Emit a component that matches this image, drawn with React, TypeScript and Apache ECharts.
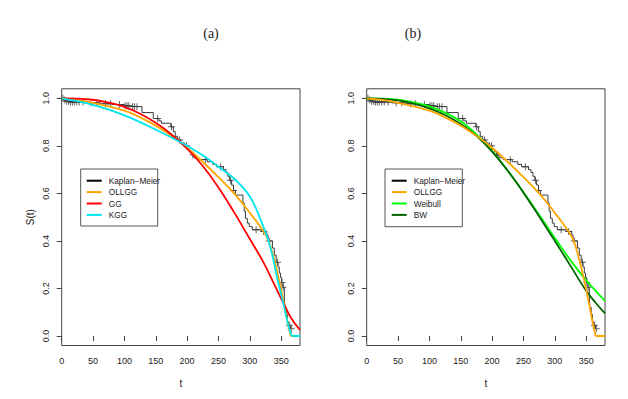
import React, { useEffect, useRef } from "react";
import * as echarts from "echarts";

// Kaplan–Meier step estimate (time of drop, survival after drop)
const KM_T = [0, 3, 6, 12, 40, 62, 80, 100, 110, 128, 146, 155, 159, 174, 178, 181, 185, 190, 196, 200, 204, 207, 211, 218, 232, 241, 247, 258, 262, 265, 268, 271, 274, 277, 289, 291, 293, 296, 299, 304, 318, 327, 329, 336, 339, 342, 345, 347, 349, 351, 353, 355, 356, 358, 360, 362, 365];
const KM_S = [1.0, 0.993, 0.988, 0.984, 0.981, 0.977, 0.974, 0.969, 0.965, 0.94, 0.915, 0.905, 0.895, 0.88, 0.86, 0.84, 0.825, 0.812, 0.8, 0.785, 0.775, 0.762, 0.75, 0.742, 0.733, 0.722, 0.712, 0.7, 0.688, 0.672, 0.655, 0.635, 0.612, 0.593, 0.56, 0.525, 0.495, 0.475, 0.46, 0.447, 0.44, 0.425, 0.4, 0.37, 0.34, 0.31, 0.29, 0.265, 0.245, 0.225, 0.205, 0.16, 0.12, 0.09, 0.06, 0.045, 0.03];
const KM_END = 366;
const CENSOR_T = [2, 5, 8, 11, 14, 17, 20, 24, 28, 34, 47, 56, 70, 78, 92, 101, 104, 107, 113, 116, 120, 153, 175, 188, 199, 209, 229, 253, 269, 274, 310, 322, 331, 344, 351, 353, 363, 366];

// Fitted survival curves
const OLLGG_T = [0, 25, 50, 75, 100, 125, 150, 175, 200, 225, 250, 275, 300, 322, 330, 338, 345, 350, 355, 360, 364, 366, 380];
const OLLGG_S = [1.0, 0.993, 0.981, 0.966, 0.948, 0.92, 0.885, 0.842, 0.792, 0.732, 0.668, 0.6, 0.518, 0.44, 0.4, 0.33, 0.255, 0.195, 0.13, 0.06, 0.015, 0.0, 0.0];

const GG_T = [0, 25, 50, 75, 100, 125, 150, 175, 200, 225, 250, 275, 300, 320, 340, 354, 366, 380];
const GG_S = [1.0, 0.999, 0.994, 0.982, 0.964, 0.935, 0.897, 0.848, 0.788, 0.715, 0.625, 0.52, 0.408, 0.318, 0.212, 0.135, 0.075, 0.025];

const KGG_T = [0, 25, 50, 75, 100, 125, 150, 175, 200, 225, 250, 275, 300, 317, 332, 344, 354, 360, 365, 368, 380];
const KGG_S = [1.0, 0.988, 0.972, 0.952, 0.928, 0.9, 0.868, 0.835, 0.8, 0.76, 0.712, 0.662, 0.587, 0.49, 0.38, 0.24, 0.13, 0.06, 0.012, 0.0, 0.0];

const WEIBULL_T = [0, 25, 50, 75, 100, 125, 150, 175, 200, 225, 250, 275, 300, 325, 350, 365, 380];
const WEIBULL_S = [1.0, 0.999, 0.994, 0.983, 0.966, 0.94, 0.903, 0.848, 0.778, 0.695, 0.605, 0.51, 0.412, 0.318, 0.234, 0.19, 0.148];

const BW_T = [0, 25, 50, 75, 100, 125, 150, 175, 200, 225, 250, 275, 300, 325, 350, 365, 380];
const BW_S = [1.0, 0.998, 0.991, 0.978, 0.958, 0.93, 0.892, 0.842, 0.776, 0.695, 0.603, 0.503, 0.4, 0.295, 0.19, 0.14, 0.095];

const X_TICKS = [0, 50, 100, 150, 200, 250, 300, 350];
const Y_TICKS = [0, 0.2, 0.4, 0.6, 0.8, 1.0];

const KM_NAME = "Kaplan\u2212Meier";
const SANS = "'Liberation Sans Narrow', 'Liberation Sans', Arial, sans-serif";
const PLUS = "path://M0,4.3H10V5.7H0Z M4.3,0H5.7V10H4.3Z";

const pts = (t: number[], s: number[]) => t.map((v, i) => [v, s[i]]);
const kmAt = (t: number) => {
  let s = KM_S[0];
  for (let i = 0; i < KM_T.length; i++) if (KM_T[i] <= t) s = KM_S[i];
  return s;
};

export default function App() {
  const ref = useRef<HTMLDivElement>(null);
  useEffect(() => {
    if (!ref.current) return;
    const chart = echarts.init(ref.current, undefined, { renderer: "svg" });

    const kmData = [...pts(KM_T, KM_S), [KM_END, KM_S[KM_S.length - 1]]];
    const censorData = CENSOR_T.map((t) => [t, kmAt(t)]);

    const fit = (gi: number, name: string, t: number[], s: number[], color: string) => ({
      type: "line",
      name,
      xAxisIndex: gi,
      yAxisIndex: gi,
      data: pts(t, s),
      showSymbol: false,
      smooth: 0.4,
      lineStyle: { color, width: 1.8 },
      itemStyle: { color },
      z: 3,
    });
    const km = (gi: number) => [
      {
        type: "line",
        name: KM_NAME,
        xAxisIndex: gi,
        yAxisIndex: gi,
        data: kmData,
        step: "end",
        showSymbol: false,
        lineStyle: { color: "#3a3a3a", width: 1 },
        itemStyle: { color: "#000" },
        z: 2,
      },
      {
        type: "scatter",
        name: "censored",
        xAxisIndex: gi,
        yAxisIndex: gi,
        data: censorData,
        symbol: PLUS,
        symbolSize: 7,
        itemStyle: { color: "#3a3a3a" },
        z: 2,
      },
    ];

    const xAxis = (gi: number) => ({
      type: "value",
      gridIndex: gi,
      min: 0,
      max: 380,
      axisLine: { show: false },
      splitLine: { show: false },
      axisTick: { customValues: X_TICKS, length: 5, lineStyle: { color: "#444" } },
      axisLabel: { customValues: X_TICKS, margin: 11, fontSize: 9, fontFamily: SANS, color: "#222" },
      name: "t",
      nameLocation: "middle",
      nameGap: 33,
      nameTextStyle: { fontSize: 10, fontFamily: SANS, color: "#222" },
    });
    const yAxis = (gi: number, withName: boolean) => ({
      type: "value",
      gridIndex: gi,
      min: -0.04,
      max: 1.04,
      axisLine: { show: false },
      splitLine: { show: false },
      axisTick: { customValues: Y_TICKS, length: 5, lineStyle: { color: "#444" } },
      axisLabel: {
        customValues: Y_TICKS,
        formatter: (v: number) => v.toFixed(1),
        rotate: 90,
        margin: 11,
        fontSize: 9,
        fontFamily: SANS,
        color: "#222",
      },
      name: withName ? "S(t)" : "",
      nameLocation: "middle",
      nameRotate: 90,
      nameGap: 26,
      nameTextStyle: { fontSize: 10, fontFamily: SANS, color: "#222" },
    });

    const legend = (left: number, names: string[]) => ({
      data: names,
      orient: "vertical",
      left,
      top: 175,
      itemWidth: 15,
      itemHeight: 2,
      itemGap: 0,
      padding: 0,
      icon: "rect",
      selectedMode: false,
      textStyle: { fontSize: 8.3, lineHeight: 11.4, fontFamily: SANS, color: "#222", padding: [0, 0, 0, 2] },
    });

    chart.setOption({
      animation: false,
      backgroundColor: "#fff",
      grid: [
        { left: 61.7, right: 328, top: 88.8, bottom: 53.5, show: true, borderColor: "#444", borderWidth: 1 },
        { left: 366.7, right: 23, top: 88.8, bottom: 53.5, show: true, borderColor: "#444", borderWidth: 1 },
      ],
      xAxis: [xAxis(0), xAxis(1)],
      yAxis: [yAxis(0, true), yAxis(1, false)],
      legend: [
        legend(86.7, [KM_NAME, "OLLGG", "GG", "KGG"]),
        legend(391.7, [KM_NAME, "OLLGG", "Weibull", "BW"]),
      ],
      graphic: [
        { type: "rect", shape: { x: 80.7, y: 169, width: 77, height: 57 }, style: { fill: "none", stroke: "#555", lineWidth: 1 }, z: 10 },
        { type: "rect", shape: { x: 385, y: 169, width: 77.3, height: 57.7 }, style: { fill: "none", stroke: "#555", lineWidth: 1 }, z: 10 },
        { type: "text", x: 211, y: 33, style: { text: "(a)", font: "14px 'Liberation Serif', 'DejaVu Serif', serif", fill: "#222", textAlign: "center", textVerticalAlign: "middle" } },
        { type: "text", x: 413, y: 33, style: { text: "(b)", font: "14px 'Liberation Serif', 'DejaVu Serif', serif", fill: "#222", textAlign: "center", textVerticalAlign: "middle" } },
      ],
      series: [
        ...km(0),
        fit(0, "OLLGG", OLLGG_T, OLLGG_S, "#FFA500"),
        fit(0, "GG", GG_T, GG_S, "#FF0000"),
        fit(0, "KGG", KGG_T, KGG_S, "#00E5EE"),
        ...km(1),
        fit(1, "Weibull", WEIBULL_T, WEIBULL_S, "#00FF00"),
        fit(1, "BW", BW_T, BW_S, "#006400"),
        fit(1, "OLLGG", OLLGG_T, OLLGG_S, "#FFA500"),
      ],
    });
    return () => chart.dispose();
  }, []);
  return <div ref={ref} style={{ position: "fixed", left: 0, top: 0, width: 628, height: 399 }} />;
}
